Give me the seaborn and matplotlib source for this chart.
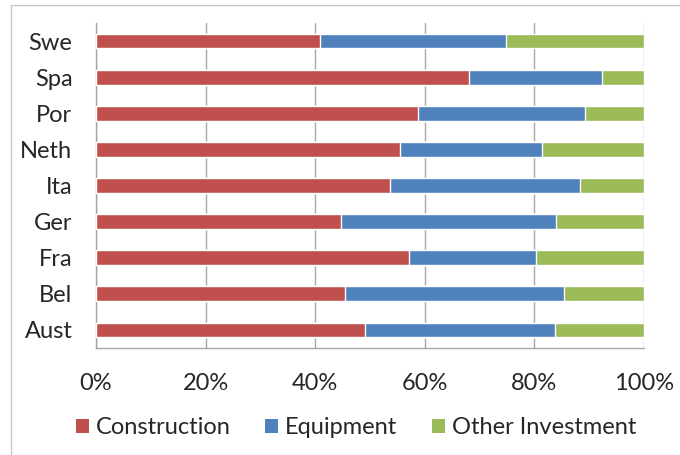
import matplotlib
matplotlib.use("Agg")
import matplotlib.pyplot as plt
from matplotlib.lines import Line2D
from matplotlib.patches import Patch
import seaborn as sns
import pandas as pd

countries = ["Swe", "Spa", "Por", "Neth", "Ita", "Ger", "Fra", "Bel", "Aust"]
construction = [40.8, 68.0, 58.8, 55.5, 53.7, 44.7, 57.1, 45.5, 49.0]
equipment = [34.0, 24.4, 30.5, 25.8, 34.7, 39.3, 23.2, 39.9, 34.7]
other = [25.2, 7.6, 10.7, 18.7, 11.6, 16.0, 19.7, 14.6, 16.3]
ticks = [0, 20, 40, 60, 80, 100]
tick_labels = ["0%", "20%", "40%", "60%", "80%", "100%"]

colors = {"Construction": "#C0504D", "Equipment": "#4F81BD", "Other Investment": "#9BBB59"}

df = pd.DataFrame({"country": countries, "Construction": construction,
                   "Equipment": equipment, "Other Investment": other})
# cumulative right edges for stacking
df["c1"] = df["Construction"]
df["c2"] = df["c1"] + df["Equipment"]
df["c3"] = df["c2"] + df["Other Investment"]

sns.set_style("white")
plt.rcParams["font.family"] = ["Lato", "DejaVu Sans"]

fig = plt.figure(figsize=(6.8, 4.55), dpi=100)
ax = fig.add_axes([96 / 680, 1 - 348 / 455, (644 - 96) / 680, (348 - 23) / 455])

for col, name in [("c3", "Other Investment"), ("c2", "Equipment"), ("c1", "Construction")]:
    sns.barplot(data=df, x=col, y="country", order=countries, orient="h",
                color=colors[name], saturation=1, width=0.41, ax=ax, zorder=3)

ax.set_xlim(0, 100)
ax.set_ylim(len(countries) - 0.5, -0.5)
ax.set_xticks(ticks)
ax.set_xticklabels(tick_labels)
ax.set_xlabel("")
ax.set_ylabel("")
ax.grid(axis="x", color="#A6A6A6", linewidth=1.0, zorder=0)
ax.set_axisbelow(True)
for side in ["top", "right"]:
    ax.spines[side].set_visible(False)
for side in ["left", "bottom"]:
    ax.spines[side].set_color("#A6A6A6")
    ax.spines[side].set_linewidth(1.0)
ax.tick_params(axis="both", length=0, labelsize=17, colors="#262626")
ax.tick_params(axis="x", pad=18)
ax.tick_params(axis="y", pad=17)

handles = [Patch(facecolor=colors[n], edgecolor="none", label=n)
           for n in ["Construction", "Equipment", "Other Investment"]]
fig.legend(handles=handles, loc="center", bbox_to_anchor=(356 / 680, 1 - 428 / 455),
           ncol=3, frameon=False, fontsize=17, handlelength=0.55, handleheight=0.55,
           handletextpad=0.3, columnspacing=1.45, labelcolor="#262626")

# chart-area border
fig.add_artist(Line2D([11 / 680, 1.0], [1 - 5 / 455, 1 - 5 / 455],
                      transform=fig.transFigure, color="#C8C8C8", linewidth=1.0))
fig.add_artist(Line2D([11 / 680, 11 / 680], [1 - 5 / 455, 0.0],
                      transform=fig.transFigure, color="#C8C8C8", linewidth=1.0))

fig.savefig("out.png", dpi=100)
